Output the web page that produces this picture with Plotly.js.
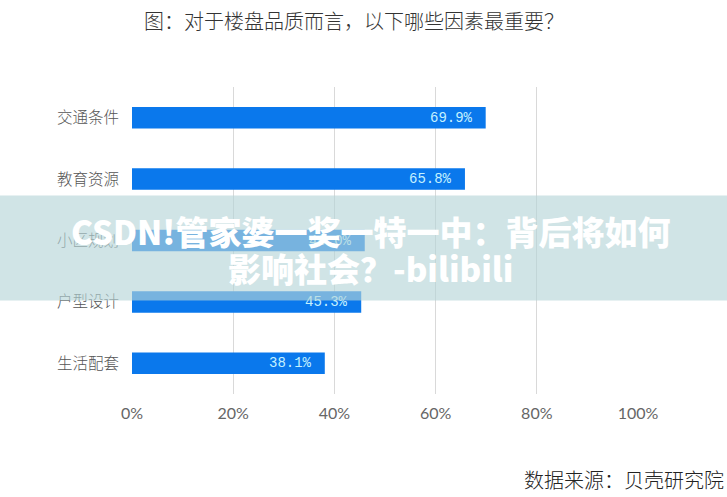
<!DOCTYPE html>
<html>
<head>
<meta charset="utf-8">
<script src="https://cdn.plot.ly/plotly-3.0.1.min.js"></script>
<style>html,body{margin:0;padding:0;background:#fff;}#chart{width:727px;height:497px;}</style>
</head>
<body>
<div id="chart"></div>
<script>
const categories = ["交通条件", "教育资源", "小区规划", "户型设计", "生活配套"];
const values = [0.699, 0.658, 0.460, 0.453, 0.381];
const valueLabels = ["69.9%", "65.8%", "46.0%", "45.3%", "38.1%"];
const xTickVals = [0, 0.2, 0.4, 0.6, 0.8, 1.0];
const xTickText = ["0%", "20%", "40%", "60%", "80%", "100%"];
const titleText = "图：对于楼盘品质而言，以下哪些因素最重要？";
const sourceText = "数据来源：贝壳研究院";
const bannerLine1 = "CSDN!管家婆一奖一特一中：背后将如何";
const bannerLine2 = "影响社会？-bilibili";

const cjk = '"Noto Sans CJK SC", "Noto Sans", sans-serif';

const trace = {
  type: 'bar',
  orientation: 'h',
  y: categories,
  x: values,
  marker: {color: '#0a78ec'},
  hoverinfo: 'skip'
};

const annotations = categories.map((c, i) => ({
  x: values[i], y: c, xref: 'x', yref: 'y',
  text: valueLabels[i], showarrow: false,
  xanchor: 'right', yanchor: 'middle', xshift: -11,
  font: {family: '"Liberation Mono", "DejaVu Sans Mono", monospace', size: 14, color: '#c4f1ff'}
}));

annotations.push({
  xref: 'paper', yref: 'paper', x: 1.174, y: -0.28,
  xanchor: 'right', yanchor: 'middle',
  text: sourceText, showarrow: false,
  font: {family: cjk, size: 20, color: '#222', weight: 300}
});

// semi-transparent banner overlay
annotations.push({
  xref: 'paper', yref: 'paper', x: 0.4575, y: 0.4756,
  xanchor: 'center', yanchor: 'middle',
  text: ' ', showarrow: false, width: 740, height: 104, borderpad: 0,
  bgcolor: 'rgba(182,213,216,0.64)'
});
annotations.push({
  xref: 'paper', yref: 'paper', x: 0.4705, y: 0.532,
  xanchor: 'center', yanchor: 'middle',
  text: bannerLine1, showarrow: false,
  font: {family: cjk, size: 33, color: '#ffffff', weight: 900}
});
annotations.push({
  xref: 'paper', yref: 'paper', x: 0.4705, y: 0.412,
  xanchor: 'center', yanchor: 'middle',
  text: bannerLine2, showarrow: false,
  font: {family: cjk, size: 33, color: '#ffffff', weight: 900}
});

const layout = {
  width: 727, height: 497,
  margin: {l: 132, r: 89, t: 87, b: 103},
  paper_bgcolor: '#ffffff', plot_bgcolor: '#ffffff',
  showlegend: false,
  bargap: 0.65,
  title: {
    text: titleText, x: 0.487, xref: 'container', xanchor: 'center',
    y: 0.956, yref: 'container', yanchor: 'middle',
    font: {family: cjk, size: 20, color: '#333', weight: 300}
  },
  xaxis: {
    range: [0, 1.0], tickvals: xTickVals, ticktext: xTickText,
    showgrid: true, gridcolor: '#d9d9d9', gridwidth: 1,
    zeroline: false, showline: false, ticks: '',
    ticklabelstandoff: 8,
    tickfont: {family: 'Lato, "Open Sans", sans-serif', size: 16, color: '#666'},
    fixedrange: true
  },
  yaxis: {
    autorange: 'reversed', type: 'category',
    showgrid: false, zeroline: false, showline: false, ticks: '',
    ticklabelstandoff: 12,
    tickfont: {family: cjk, size: 15.5, color: '#555', weight: 300},
    fixedrange: true
  },
  annotations: annotations
};

Plotly.newPlot('chart', [trace], layout, {displayModeBar: false, staticPlot: true});
</script>
</body>
</html>
